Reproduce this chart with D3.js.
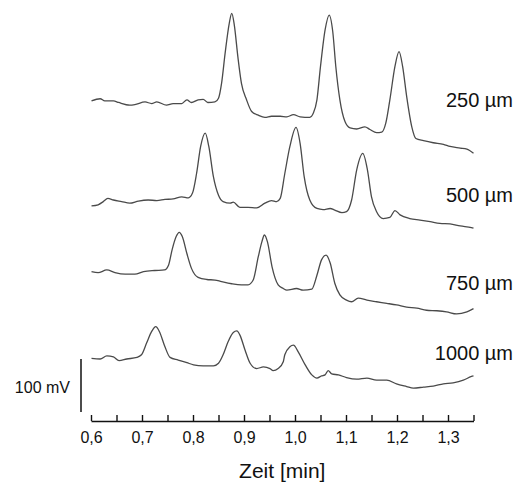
<!DOCTYPE html>
<html>
<head>
<meta charset="utf-8">
<script src="https://cdn.jsdelivr.net/npm/d3@7/dist/d3.min.js"></script>
<style>
  html, body { margin: 0; padding: 0; background: #fff; }
  svg { display: block; font-family: "Liberation Sans", Arial, Helvetica, sans-serif; }
</style>
</head>
<body>
<svg id="chart" width="518" height="482"></svg>
<script>
// ---- Data ----
const categories = ["250 \u00B5m", "500 \u00B5m", "750 \u00B5m", "1000 \u00B5m"];
// vertical offset of each trace (mV on the common scale)
const offsets = [585, 390, 265, 100];

// Zeit [min] and signal [mV, relative to trace offset]
const t250 = [0.601,0.618,0.627,0.644,0.654,0.676,0.686,0.706,0.719,0.729,0.748,0.761,0.778,0.788,0.797,0.810,0.820,0.829,0.843,0.850,0.856,0.863,0.871,0.876,0.881,0.888,0.895,0.905,0.915,0.928,0.941,0.954,0.971,0.984,0.997,1.010,1.029,1.036,1.043,1.050,1.059,1.067,1.074,1.080,1.088,1.098,1.108,1.121,1.137,1.147,1.160,1.170,1.178,1.186,1.196,1.204,1.211,1.219,1.229,1.237,1.252,1.271,1.291,1.304,1.324,1.337,1.350];
const v250 = [2,6,2,2,-1,-6,-5,0,-3,0,-6,-3,-3,4,-1,4,5,-1,0,7,35,92,148,167,145,85,35,4,-18,-25,-29,-27,-27,-28,-24,-28,-29,-21,4,67,136,164,133,67,4,-37,-49,-51,-47,-52,-58,-57,-40,4,67,95,67,10,-47,-69,-73,-77,-80,-84,-87,-89,-97];

const t500 = [0.601,0.614,0.624,0.633,0.644,0.660,0.676,0.693,0.712,0.729,0.745,0.761,0.778,0.791,0.799,0.807,0.815,0.824,0.831,0.840,0.850,0.859,0.873,0.879,0.892,0.908,0.925,0.941,0.954,0.964,0.971,0.980,0.990,1.002,1.010,1.018,1.029,1.043,1.055,1.069,1.078,1.092,1.101,1.111,1.121,1.133,1.142,1.150,1.160,1.173,1.186,1.196,1.206,1.225,1.245,1.265,1.284,1.304,1.324,1.346,1.350];
const v500 = [-1,1,7,13,10,7,4,8,10,9,11,12,16,14,23,60,111,136,111,54,19,7,4,6,-4,-4,-5,4,9,7,13,60,111,147,117,54,10,-6,-8,-6,-9,-14,-12,10,67,98,67,16,-12,-25,-23,-10,-18,-25,-28,-31,-34,-35,-39,-42,-43];

const t750 = [0.601,0.614,0.631,0.647,0.667,0.686,0.703,0.725,0.744,0.752,0.759,0.767,0.773,0.779,0.788,0.797,0.810,0.827,0.843,0.856,0.876,0.895,0.908,0.918,0.928,0.935,0.940,0.946,0.955,0.967,0.977,0.984,1.003,1.016,1.033,1.043,1.052,1.061,1.069,1.078,1.088,1.101,1.111,1.124,1.141,1.160,1.180,1.199,1.219,1.239,1.258,1.278,1.297,1.317,1.337,1.350];
const v750 = [0,-2,3,-2,-5,-5,0,2,3,12,41,66,74,66,34,6,-11,-15,-16,-19,-23,-25,-25,-16,28,56,69,56,9,-25,-32,-35,-32,-35,-33,-7,22,31,16,-22,-44,-54,-57,-50,-54,-57,-60,-63,-67,-69,-73,-74,-76,-80,-76,-70];

const t1000 = [0.601,0.618,0.631,0.644,0.655,0.670,0.690,0.699,0.709,0.719,0.727,0.734,0.745,0.755,0.771,0.788,0.801,0.820,0.840,0.850,0.859,0.869,0.879,0.886,0.892,0.902,0.912,0.925,0.938,0.951,0.957,0.967,0.977,0.980,0.990,0.997,1.006,1.020,1.033,1.043,1.052,1.059,1.065,1.072,1.085,1.101,1.121,1.141,1.160,1.180,1.199,1.219,1.232,1.252,1.271,1.291,1.310,1.330,1.346,1.350];
const v1000 = [1,0,6,4,-3,0,3,8,30,52,61,52,23,3,-2,-7,-11,-13,-13,-8,8,33,50,53,45,17,-8,-18,-15,-18,-22,-18,-5,8,23,26,14,-11,-30,-36,-32,-30,-22,-28,-30,-35,-38,-36,-40,-40,-47,-52,-55,-53,-51,-47,-45,-40,-33,-32];

const times = [t250, t500, t750, t1000];
const values = [v250, v500, v750, v1000];

const xDomain = [0.6, 1.35];
const majorTicks = [0.6, 0.7, 0.8, 0.9, 1.0, 1.1, 1.2, 1.3];
const minorTicks = [0.65, 0.75, 0.85, 0.95, 1.05, 1.15, 1.25, 1.35];
const tickLabels = ["0,6", "0,7", "0,8", "0,9", "1,0", "1,1", "1,2", "1,3"];
const xTitle = "Zeit [min]";
const scaleBarValue = 100;
const scaleBarLabel = "100 mV";

// ---- Drawing ----
const svg = d3.select("#chart");
const x = d3.scaleLinear().domain(xDomain).range([91, 473.5]);
const y = d3.scaleLinear().domain([0, 100]).range([412, 359]);

const lineColor = "#4a4a4a";

const line = d3.line()
  .x(d => x(d[0]))
  .y(d => y(d[1]))
  .curve(d3.curveMonotoneX);

categories.forEach((name, i) => {
  const pts = times[i].map((t, k) => [t, values[i][k] + offsets[i]]);
  svg.append("path")
    .attr("d", line(pts))
    .attr("fill", "none")
    .attr("stroke", lineColor)
    .attr("stroke-width", 1.3)
    .attr("stroke-linejoin", "round");
});

// trace labels
const labelBaselines = [107, 202, 290, 360];
categories.forEach((name, i) => {
  svg.append("text")
    .attr("x", 513)
    .attr("y", labelBaselines[i])
    .attr("text-anchor", "end")
    .attr("font-size", 20)
    .attr("fill", "#111")
    .text(name);
});

// x axis with inward ticks
const axisY = 421;
const allTicks = majorTicks.concat(minorTicks).sort((a, b) => a - b);
const axis = d3.axisBottom(x)
  .tickValues(allTicks)
  .tickSizeInner(-6)
  .tickSizeOuter(0)
  .tickPadding(11)
  .tickFormat(d => {
    const idx = majorTicks.findIndex(m => Math.abs(m - d) < 1e-9);
    return idx >= 0 ? tickLabels[idx] : "";
  });

const gx = svg.append("g")
  .attr("transform", `translate(0,${axisY})`)
  .call(axis);
gx.select(".domain").attr("stroke", "#111").attr("stroke-width", 1.5);
gx.selectAll(".tick line").attr("stroke", "#111").attr("stroke-width", 1.4);
gx.selectAll(".tick text")
  .attr("font-size", 16)
  .attr("font-family", "Liberation Sans, Arial, sans-serif")
  .attr("fill", "#111");

svg.append("text")
  .attr("x", (x(xDomain[0]) + x(xDomain[1])) / 2)
  .attr("y", 478)
  .attr("text-anchor", "middle")
  .attr("font-size", 21)
  .attr("fill", "#111")
  .text(xTitle);

// scale bar
svg.append("line")
  .attr("x1", 81).attr("x2", 81)
  .attr("y1", y(0)).attr("y2", y(scaleBarValue))
  .attr("stroke", "#111")
  .attr("stroke-width", 1.5);
svg.append("text")
  .attr("x", 70)
  .attr("y", 393)
  .attr("text-anchor", "end")
  .attr("font-size", 16)
  .attr("fill", "#111")
  .text(scaleBarLabel);
</script>
</body>
</html>
